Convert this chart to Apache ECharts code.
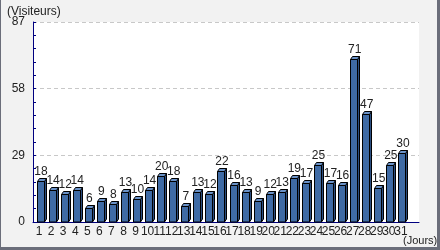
<!DOCTYPE html>
<html><head><meta charset="utf-8">
<script src="https://cdn.jsdelivr.net/npm/echarts@6/dist/echarts.min.js"></script>
<style>
html,body{margin:0;padding:0;background:#f2f2f2;}
#wrap{position:relative;width:440px;height:250px;overflow:hidden;}
#chart{position:absolute;left:0;top:0;width:440px;height:250px;}
.b{position:absolute;background:#6b6e7a;}
</style></head>
<body>
<div id="wrap">
<div id="chart"></div>
<div class="b" style="left:0;top:0;width:1px;height:250px"></div>
<div class="b" style="right:0;top:0;width:3px;height:250px"></div>
<div class="b" style="left:0;bottom:0;width:440px;height:3px"></div>
</div>
<script>
const days = ['1','2','3','4','5','6','7','8','9','10','11','12','13','14','15','16','17','18','19','20','21','22','23','24','25','26','27','28','29','30','31',''];
const visitors = [18,14,12,14,6,9,8,13,10,14,20,18,7,13,12,22,16,13,9,12,13,19,17,25,17,16,71,47,15,25,30];
const yTicks = [0,29,58,87];
const yTitle = '(Visiteurs)';
const xTitle = '(Jours)';

const FONT = '"Liberation Sans Narrow", "Arial Narrow", "Liberation Sans", Arial, sans-serif';
const chart = echarts.init(document.getElementById('chart'), null, {renderer:'canvas'});
const W = 7, DX = 2, DY = 3;
chart.setOption({
  animation:false,
  backgroundColor:'#f2f2f2',
  title:[
    {text:yTitle, left:2, top:1, textStyle:{fontFamily:FONT, fontSize:12, fontWeight:'normal', color:'#222'}},
    {text:xTitle, left:398, top:230, textStyle:{fontFamily:FONT, fontSize:11, fontWeight:'normal', color:'#222'}}
  ],
  grid:{left:33, right:21, top:22, bottom:28, show:true, backgroundColor:'#fff', borderWidth:0},
  xAxis:{type:'category', data:days, boundaryGap:true,
    axisLine:{lineStyle:{color:'#000080', width:1}},
    axisTick:{show:false},
    axisLabel:{interval:0, margin:4, fontFamily:FONT, fontSize:12, color:'#222'}},
  yAxis:{type:'value', min:yTicks[0], max:yTicks[yTicks.length-1], interval:yTicks[1]-yTicks[0],
    axisLine:{show:true, lineStyle:{color:'#000080', width:1}},
    axisTick:{show:true, inside:true, length:3, lineStyle:{color:'#000080'}},
    minorTick:{show:true, splitNumber:5, length:3, lineStyle:{color:'#000080'}},
    axisLabel:{margin:8, fontFamily:FONT, fontSize:12, color:'#222'},
    splitLine:{show:true, lineStyle:{color:'#c8c8c8', type:[4,3], width:1}}},
  series:[{
    type:'custom',
    data: visitors.map((v,i)=>[i,v]),
    renderItem:function(params, api){
      const v = api.value(1);
      const base = api.coord([api.value(0), 0]);
      const top = api.coord([api.value(0), v]);
      const cx = base[0] + 1;
      const l = Math.round(cx - W/2) + 0.5, r = l + W;
      const t = Math.round(top[1]) + 0.5, b = Math.round(base[1]);
      const st = {stroke:'#000', lineWidth:1};
      return {type:'group', children:[
        {type:'polygon', shape:{points:[[r,t],[r+DX,t-DY],[r+DX,b-DY],[r,b]]}, style:Object.assign({fill:'#2b4e80'},st)},
        {type:'polygon', shape:{points:[[l,t],[l+DX,t-DY],[r+DX,t-DY],[r,t]]}, style:Object.assign({fill:'#6a92c8'},st)},
        {type:'rect', shape:{x:l, y:t, width:W, height:b-t}, style:Object.assign({fill:'#3f6ba5'},st)},
        {type:'text', style:{text:String(v), x:cx+1, y:t-DY-1, align:'center', verticalAlign:'bottom', font:'12px '+FONT, fill:'#222'}}
      ]};
    }
  }]
});
</script>
</body></html>
